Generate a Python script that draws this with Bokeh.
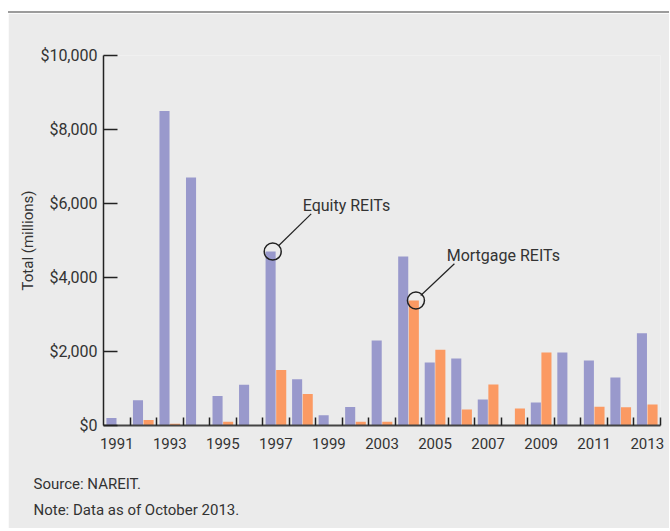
from bokeh.plotting import figure
from bokeh.models import (FixedTicker, NumeralTickFormatter, Range1d, Label, Title,
                          ColumnDataSource)
from bokeh.embed import file_html
from bokeh.resources import INLINE

# ---- data ----
years = ["1991", "1992", "1993", "1994", "1995", "1996", "1997", "1998", "1999", "2000",
         "2003", "2004", "2005", "2006", "2007", "2008", "2009", "2010", "2011", "2012", "2013"]
equity = [200, 680, 8500, 6700, 800, 1100, 4700, 1250, 280, 500,
          2300, 4570, 1700, 1810, 700, 0, 620, 1970, 1760, 1300, 2490]
mortgage = [0, 150, 50, 0, 100, 0, 1500, 850, 0, 100,
            100, 3380, 2050, 430, 1110, 460, 1970, 0, 510, 490, 570]
y_ticks = [0, 2000, 4000, 6000, 8000, 10000]
labelled_years = ["1991", "1993", "1995", "1997", "1999", "2003", "2005", "2007", "2009", "2011", "2013"]

FONT = "Roboto"
TXT = "#333333"
BG = "#ebebeb"

idx = list(range(len(years)))
src = ColumnDataSource(dict(
    xe=[i - 0.2 for i in idx], xm=[i + 0.2 for i in idx],
    equity=equity, mortgage=mortgage))

p = figure(width=661, height=517, output_backend="svg", toolbar_location=None,
           x_range=Range1d(-0.5, len(years) - 0.5), y_range=Range1d(0, 10000),
           min_border_left=95, min_border_right=9, min_border_top=42, min_border_bottom=105)
p.margin = (11, 0, 0, 8)
p.styles = {"border-top": "2px solid #9c9c9c"}
p.background_fill_color = BG
p.border_fill_color = BG
p.outline_line_color = None
p.grid.visible = False

p.vbar(x="xe", top="equity", width=0.38, source=src, color="#9999cc", line_color=None)
p.vbar(x="xm", top="mortgage", width=0.38, source=src, color="#fb9a63", line_color=None)

# x axis: labels at every other category centre, ticks on category boundaries
lab_pos = [years.index(y) for y in labelled_years]
bounds = [i + 0.5 for i in idx]
xa = p.xaxis[0]
xa.ticker = FixedTicker(ticks=lab_pos, minor_ticks=bounds)
xa.major_label_overrides = {i: years[i] for i in lab_pos}
xa.major_tick_line_color = None
xa.minor_tick_in = 8
xa.minor_tick_out = 0
xa.minor_tick_line_color = "#222222"
xa.minor_tick_line_width = 1.5
xa.axis_line_color = "#444444"
xa.axis_line_width = 2
xa.major_label_text_font = FONT
xa.major_label_text_font_size = "15px"
xa.major_label_text_color = TXT
xa.major_label_standoff = 6

ya = p.yaxis[0]
ya.ticker = FixedTicker(ticks=y_ticks)
ya.formatter = NumeralTickFormatter(format="$0,0")
ya.major_tick_in = 14
ya.major_tick_out = 0
ya.minor_tick_line_color = None
ya.major_tick_line_color = "#222222"
ya.major_tick_line_width = 1.5
ya.axis_line_color = "#222222"
ya.axis_line_width = 1.5
ya.major_label_text_font = FONT
ya.major_label_text_font_size = "16px"
ya.major_label_text_color = TXT
ya.major_label_standoff = 6
ya.axis_label = "Total (millions)"
ya.axis_label_text_font = FONT
ya.axis_label_text_font_style = "normal"
ya.axis_label_text_font_size = "15px"
ya.axis_label_text_color = TXT
ya.axis_label_standoff = 0

# callouts
ie = years.index("1997")
im = years.index("2004")
ce = (ie - 0.12, equity[ie])
cm = (im + 0.28, mortgage[im])
p.scatter([ce[0], cm[0]], [ce[1], cm[1]], size=17, fill_color=None,
          line_color="#222222", line_width=1.5)
p.segment(x0=[ce[0] + 0.23, cm[0] + 0.18], y0=[ce[1] + 165, cm[1] + 135],
          x1=[ce[0] + 1.45, cm[0] + 1.45], y1=[ce[1] + 1020, cm[1] + 990],
          line_color="#222222", line_width=1.2)
p.add_layout(Label(x=ce[0] + 1.13, y=ce[1] + 1246, text="Equity REITs",
                   text_font=FONT, text_font_size="16px", text_color=TXT,
                   text_baseline="alphabetic"))
p.add_layout(Label(x=cm[0] + 1.16, y=cm[1] + 1215, text="Mortgage REITs",
                   text_font=FONT, text_font_size="16px", text_color=TXT,
                   text_baseline="alphabetic"))

# spacer between the axis and the notes
p.add_layout(Title(text=" ", text_font_size="2px", standoff=11), "below")
# source notes (below the x axis)
for note, sd in (("Source: NAREIT.", 12), ("Note: Data as of October 2013.", 0)):
    p.add_layout(Title(text=note, align="left", offset=-70, standoff=sd,
                       text_font=FONT, text_font_size="15px", text_font_style="normal",
                       text_color=TXT), "below")

open("out.html", "w").write(file_html(p, INLINE))
